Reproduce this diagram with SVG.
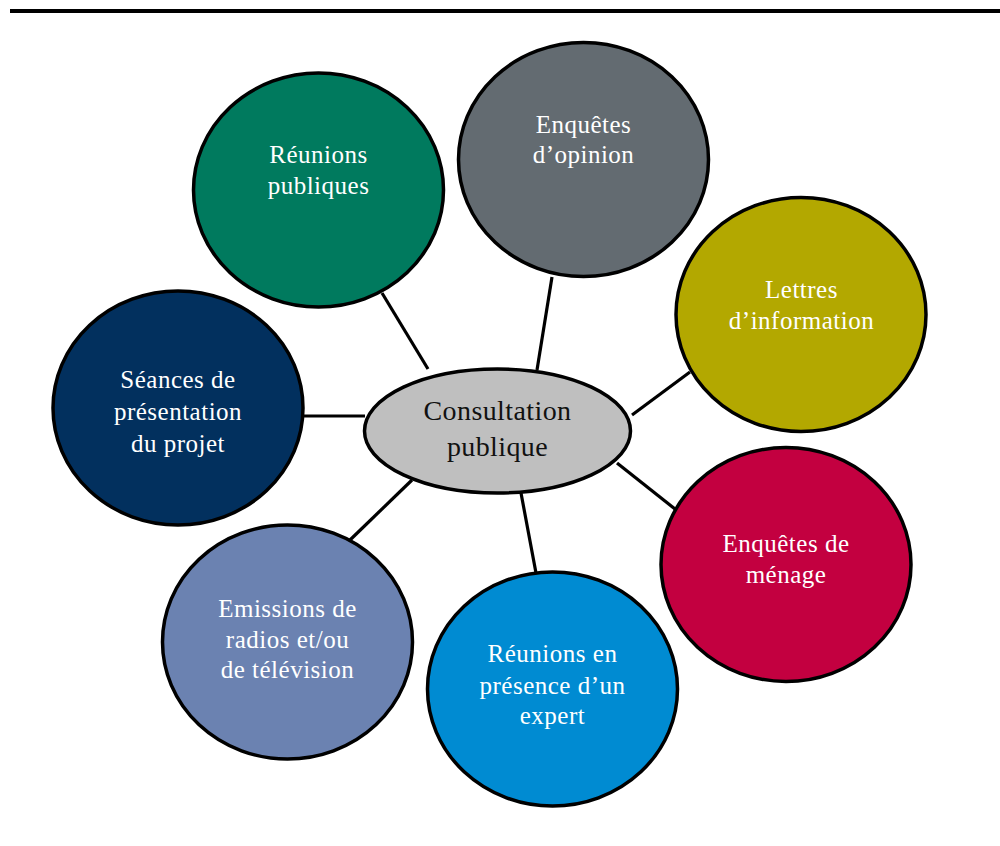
<svg xmlns="http://www.w3.org/2000/svg" width="1000" height="846" viewBox="0 0 1000 846">
<style>
.n{stroke:#000;stroke-width:3.5}
.t{font-family:"Liberation Serif","Times New Roman",serif;font-size:25px;fill:#fff;text-anchor:middle;letter-spacing:0.5px}
.c{font-family:"Liberation Serif","Times New Roman",serif;font-size:28px;fill:#111;text-anchor:middle;letter-spacing:0.4px}
.l{stroke:#000;stroke-width:3.2;fill:none}
</style>
<rect width="1000" height="846" fill="#fff"/>
<line x1="10" y1="11" x2="1000" y2="11" stroke="#000" stroke-width="4"/>
<g id="connectors">
<line class="l" x1="428" y1="369" x2="382" y2="293"/>
<line class="l" x1="537" y1="370" x2="552" y2="277"/>
<line class="l" x1="632" y1="415" x2="690" y2="372"/>
<line class="l" x1="617" y1="463" x2="675" y2="509"/>
<line class="l" x1="521" y1="493" x2="536" y2="573"/>
<line class="l" x1="412" y1="480" x2="350" y2="540"/>
<line class="l" x1="304" y1="416" x2="365" y2="416"/>
</g>
<g id="reunions-publiques">
<ellipse class="n" cx="318.5" cy="190" rx="125" ry="117" fill="#007A5E"/>
<text class="t" x="318.5" y="163">Réunions</text>
<text class="t" x="318.5" y="194">publiques</text>
</g>
<g id="enquetes-opinion">
<ellipse class="n" cx="583.5" cy="159.5" rx="125" ry="117" fill="#636B71"/>
<text class="t" x="583.5" y="133">Enquêtes</text>
<text class="t" x="583.5" y="163">d’opinion</text>
</g>
<g id="lettres-information">
<ellipse class="n" cx="801" cy="314.5" rx="125" ry="117" fill="#B3A800"/>
<text class="t" x="801.5" y="298">Lettres</text>
<text class="t" x="801.5" y="329">d’information</text>
</g>
<g id="enquetes-menage">
<ellipse class="n" cx="786" cy="564.5" rx="125" ry="117" fill="#C30040"/>
<text class="t" x="786" y="552">Enquêtes de</text>
<text class="t" x="786" y="583">ménage</text>
</g>
<g id="reunions-expert">
<ellipse class="n" cx="552.5" cy="689" rx="125" ry="117" fill="#008BD2"/>
<text class="t" x="552.5" y="662">Réunions en</text>
<text class="t" x="552.5" y="694">présence d’un</text>
<text class="t" x="552.5" y="724">expert</text>
</g>
<g id="emissions">
<ellipse class="n" cx="287.5" cy="642" rx="125" ry="117" fill="#6B82B1"/>
<text class="t" x="287.5" y="617">Emissions de</text>
<text class="t" x="287.5" y="648">radios et/ou</text>
<text class="t" x="287.5" y="678">de télévision</text>
</g>
<g id="seances">
<ellipse class="n" cx="178" cy="408" rx="125" ry="117" fill="#02305E"/>
<text class="t" x="178" y="388">Séances de</text>
<text class="t" x="178" y="420">présentation</text>
<text class="t" x="178" y="452">du projet</text>
</g>
<g id="consultation-publique">
<ellipse class="n" cx="497.5" cy="431" rx="133" ry="62" fill="#BFBFBF"/>
<text class="c" x="497.5" y="420">Consultation</text>
<text class="c" x="497.5" y="456">publique</text>
</g>
</svg>
